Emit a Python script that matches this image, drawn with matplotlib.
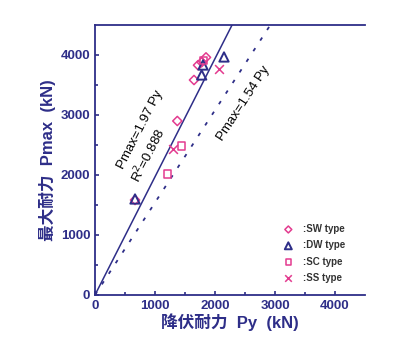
import matplotlib
matplotlib.use('Agg')
import matplotlib.pyplot as plt
import numpy as np

plt.rcParams['font.family'] = ['Liberation Sans', 'Noto Sans CJK JP', 'DejaVu Sans']

navy = '#2e2e88'
pink = '#e33b8f'

# data (Py, Pmax) in kN
sw_py = [667, 1372, 1650, 1717, 1778, 1850]
sw_pmax = [1583, 2900, 3583, 3830, 3880, 3960]
dw_py = [667, 1778, 1800, 2150]
dw_pmax = [1600, 3667, 3833, 3967]
sc_py = [1211, 1445, 1810]
sc_pmax = [2017, 2483, 3910]
ss_py = [1294, 2067]
ss_pmax = [2428, 3767]

fit_slope = 1.97
low_slope = 1.54

fig = plt.figure(figsize=(4, 3.52), dpi=100)
ax = fig.add_axes([0.2375, 0.162, 0.675, 0.767])

xs = np.array([0, 4500])
ax.plot(xs, fit_slope * xs, color=navy, lw=1.1)
ax.plot(xs, low_slope * xs, color=navy, lw=1.3, ls=(0, (2, 5)))

ax.scatter(sw_py, sw_pmax, marker='D', s=22, facecolors='none', edgecolors=pink, linewidths=1.1, label=':SW type', zorder=3)
ax.scatter(dw_py, dw_pmax, marker='^', s=45, facecolors='none', edgecolors=navy, linewidths=1.4, label=':DW type', zorder=3)
ax.scatter(sc_py, sc_pmax, marker='s', s=28, facecolors='none', edgecolors=pink, linewidths=1.1, label=':SC type', zorder=3)
ax.scatter(ss_py, ss_pmax, marker='x', s=40, color=pink, linewidths=1.1, label=':SS type', zorder=3)

ax.text(750, 2750, 'Pmax=1.97 Py', rotation=63, ha='center', va='center', fontsize=9.5)
ax.text(880, 2330, 'R$^2$=0.888', rotation=63, ha='center', va='center', fontsize=9.5)
ax.text(2470, 3200, 'Pmax=1.54 Py', rotation=57, ha='center', va='center', fontsize=9.5)

ax.set_xlim(0, 4500)
ax.set_ylim(0, 4500)
ax.set_xticks([0, 1000, 2000, 3000, 4000])
ax.set_yticks([0, 1000, 2000, 3000, 4000])
ax.set_xticks([500, 1500, 2500, 3500], minor=True)
ax.set_yticks([500, 1500, 2500, 3500], minor=True)
ax.tick_params(direction='in', colors=navy, labelsize=9.5, width=1.2, length=3)
ax.tick_params(which='minor', direction='in', colors=navy, width=1.2, length=2)
for lab in ax.get_xticklabels() + ax.get_yticklabels():
    lab.set_fontweight('bold')

ax.spines['right'].set_visible(False)
for s in ['left', 'top', 'bottom']:
    ax.spines[s].set_color(navy)
    ax.spines[s].set_linewidth(1.3)

ax.set_xlabel('降伏耐力  Py  (kN)', fontsize=12, color=navy, fontweight='bold', labelpad=1)
ax.set_ylabel('最大耐力  Pmax  (kN)', fontsize=12, color=navy, fontweight='bold', labelpad=3)

leg = ax.legend(loc='lower left', bbox_to_anchor=(0.68, 0.03), frameon=False, fontsize=7,
                handletextpad=0.9, labelspacing=0.65, borderaxespad=0.0, handlelength=1.2,
                markerscale=0.75)
for t in leg.get_texts():
    t.set_fontweight('bold')
    t.set_color('#333333')

fig.savefig('out.png', dpi=100)
